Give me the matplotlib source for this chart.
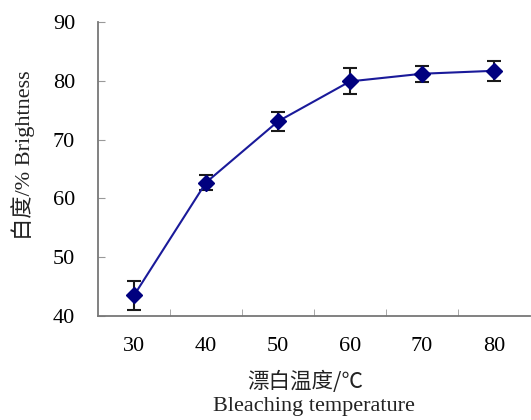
import matplotlib
matplotlib.use("Agg")
import matplotlib.pyplot as plt
import numpy as np

categories = ["30", "40", "50", "60", "70", "80"]
brightness = [43.5, 62.7, 73.1, 79.9, 81.2, 81.7]
errors = [2.4, 1.3, 1.6, 2.2, 1.4, 1.7]
yticks = [40, 50, 60, 70, 80, 90]

W, H = 531, 420
fig = plt.figure(figsize=(W / 100, H / 100), dpi=100)
ax = fig.add_axes([98 / W, 1 - 316 / H, (530 - 98) / W, (316 - 22) / H])

x = np.arange(len(categories))
ax.errorbar(x, brightness, yerr=errors, color="#1a1a9a", lw=1.5,
            marker="D", ms=8, mfc="#00007f", mec="#00007f",
            ecolor="#1a1a1a", elinewidth=1.5, capsize=4.8, capthick=1.5)

ax.set_xlim(-0.5, len(categories) - 0.5)
ax.set_ylim(40, 90)
ax.set_yticks(yticks)
ax.set_yticklabels([str(v) for v in yticks], family="Liberation Serif", fontsize=16)
ax.set_xticks(x)
ax.set_xticklabels(categories, family="Liberation Serif", fontsize=16)
ax.set_xticks(np.arange(0.5, len(categories) - 0.5, 1), minor=True)
ax.tick_params(axis="x", which="major", length=0, pad=15)
ax.tick_params(axis="x", which="minor", direction="in", length=5, color="#999999")
ax.tick_params(axis="y", which="major", direction="in", length=5, color="#999999", pad=16.5)

for s in ["top", "right"]:
    ax.spines[s].set_visible(False)
for s in ["left", "bottom"]:
    ax.spines[s].set_color("#777777")
    ax.spines[s].set_linewidth(1.3)

fig.text(305 / W, 1 - 382 / H, "漂白温度/℃", ha="center", va="center",
         family=["Noto Sans CJK SC", "DejaVu Sans"], fontsize=15.5, color="#222222")
fig.text(314 / W, 1 - 406 / H, "Bleaching temperature", ha="center", va="center",
         family="Liberation Serif", fontsize=16, color="#222222")
fig.text(23 / W, 1 - 155 / H, "白度/% Brightness", ha="center", va="center", rotation=90,
         family=["Liberation Serif", "Noto Sans CJK SC"], fontsize=16, color="#222222")

fig.savefig("out.png", dpi=100)
